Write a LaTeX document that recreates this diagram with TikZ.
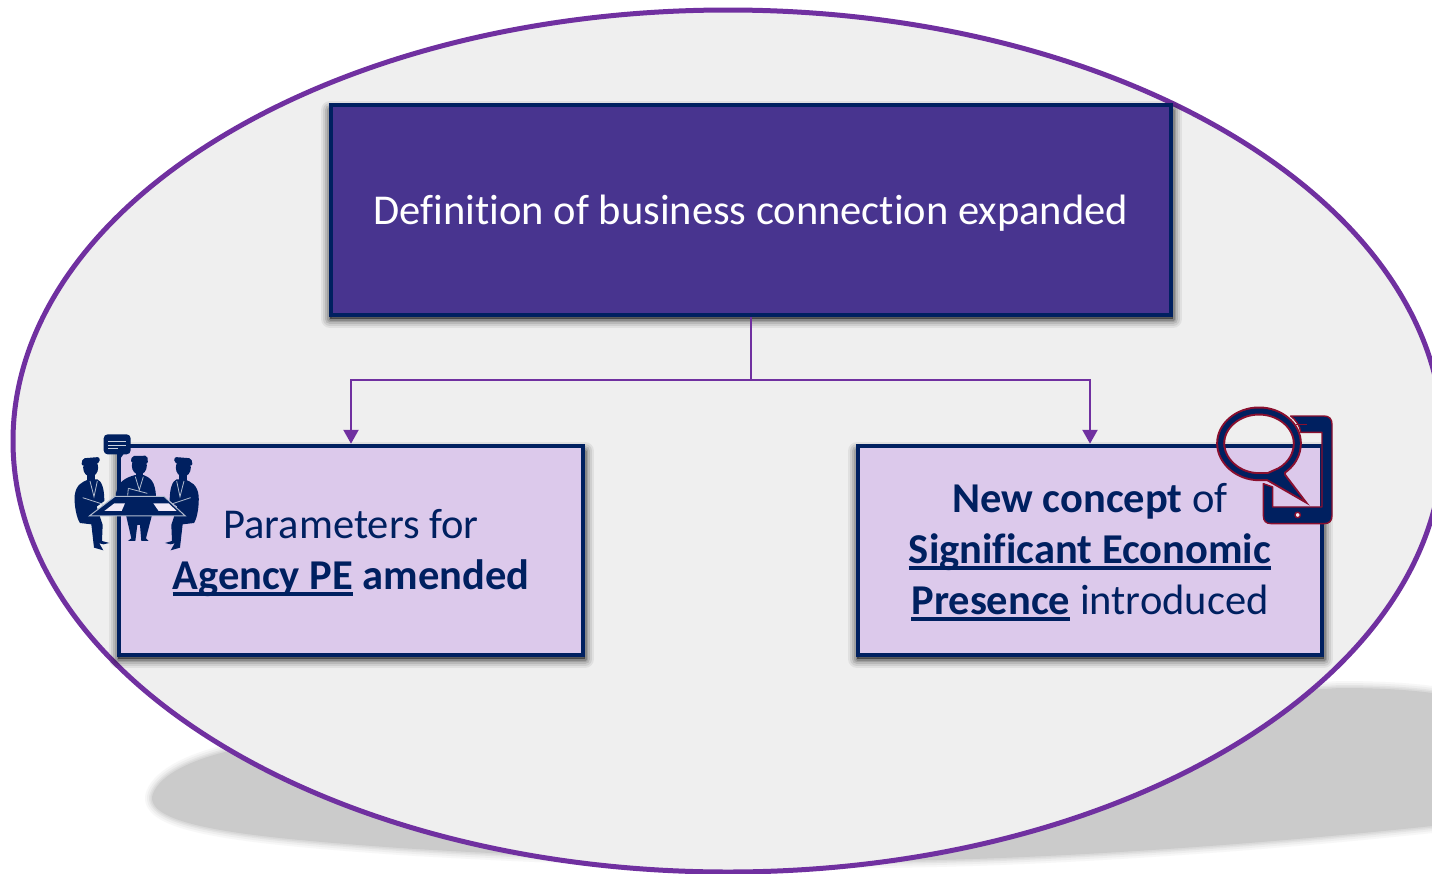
\documentclass[tikz,border=0pt]{standalone}
\usepackage{fontspec}
\setmainfont{Carlito}[Ligatures=NoCommon]
\usetikzlibrary{arrows.meta,shapes.geometric}
\definecolor{navy}{HTML}{002060}
\definecolor{purp}{HTML}{7030A0}
\definecolor{deep}{HTML}{48348F}
\definecolor{lilac}{HTML}{DCC9EB}
\definecolor{pale}{HTML}{EFEFEF}
\definecolor{crim}{HTML}{8A0F2E}
\definecolor{shad}{HTML}{CBCBCB}
\newcommand{\softbox}[4]{%
  \foreach \w/\o in {18/.06,14/.08,10/.10,6/.13,3/.16}{
    \draw[black,opacity=\o,line width=\w pt,fill=black,line join=round] (#1,#2+6) rectangle (#3+1,#4+3);
  }}
\newcommand{\thul}[1]{\setbox0=\hbox{#1}\rlap{\rule[-6.5pt]{\wd0}{4pt}}\box0\relax}
\newcommand{\floorpath}{(152,797) .. controls (156,778) and (185,762) .. (225,752) -- (800,720) -- (1340,688) .. controls (1380,688) and (1410,690) .. (1432,693) -- (1445,693) -- (1445,825) -- (1432,826) .. controls (1300,840) and (1150,852) .. (1000,858) .. controls (800,866) and (560,858) .. (400,848) .. controls (260,838) and (150,828) .. (152,797) -- cycle}
\tikzset{
  ovalshape/.style={draw=purp,line width=5pt,fill=pale,ellipse,minimum width=1430pt,minimum height=862pt,inner sep=0pt},
  mainbox/.style={draw=navy,line width=4.5pt,fill=deep,text=white,minimum width=840pt,minimum height=210pt,inner sep=0pt,font=\fontsize{42.5}{51}\selectfont},
  subbox/.style={draw=navy,line width=4.5pt,fill=lilac,text=navy,minimum width=464pt,minimum height=209pt,inner sep=0pt,align=center,font=\fontsize{42.5}{51}\selectfont},
  conn/.style={draw=purp,line width=2.4pt},
  arrowconn/.style={conn,-{Triangle[length=14pt,width=15pt]}},
  icon/.style={fill=navy,draw=none},
  sheet/.style={fill=lilac!40!white,draw=none},
  detail/.style={draw=white!70!navy,line width=0.8pt},
}
\begin{document}
\begin{tikzpicture}[x=1pt,y=-1pt]
\useasboundingbox (0,0) rectangle (1432,873);
\clip (0,0) rectangle (1432,873);
\fill[white] (0,0) rectangle (1432,873);
% floor shadow
\foreach \w/\o in {14/.15,10/.2,6/.3,3/.4}{
  \draw[shad,opacity=\o,line width=\w pt,line join=round] \floorpath;
}
\fill[shad] \floorpath;
% ellipse
\node[ovalshape] (oval) at (728,441) {};
% box shadows
\softbox{330}{104}{1172}{316}
\softbox{118}{445}{584}{656}
\softbox{857}{445}{1323}{656}
% boxes
\node[mainbox] (top) at (751,210) {\rule{0pt}{36pt}Definition of business connection expanded};
\node[subbox] (left) at (351,550.5) {\parbox{400pt}{\vspace*{5pt}\centering Parameters for\\\textbf{\thul{Agency PE} amended}}};
\node[subbox] (right) at (1090,550.5) {\parbox{440pt}{\vspace*{4pt}\centering\textbf{New concept} of\\\textbf{\thul{Significant Economic}}\\\textbf{\thul{Presence}} introduced}};
% connectors
\coordinate (junction) at (751,380);
\draw[conn] (top.south) -- (junction);
\draw[arrowconn] (junction) -| (left.north);
\draw[arrowconn] (junction) -| (right.north);
% meeting icon
\begin{scope}[shift={(60,425)},x=0.3333pt,y=-0.3333pt]
  % speech tag
  \fill[icon,rounded corners=4pt] (131,28) rectangle (212,88);
  \fill[icon] (172,85) -- (192,85) -- (184,97) -- cycle;
  \draw[white!80!navy,line width=1pt] (145,48) -- (198,48) (145,60) -- (198,60) (145,71) -- (175,71);
  % heads with hair
  \fill[icon] (92,128) ellipse [x radius=7.5pt,y radius=9pt];
  \fill[icon,rounded corners=2pt] (64,122) -- (68,100) -- (118,96) -- (120,112) -- (104,118) -- cycle;
  \fill[icon] (82,150) rectangle (104,170);
  \fill[icon] (238,122) ellipse [x radius=7.5pt,y radius=9pt];
  \fill[icon,rounded corners=2pt] (212,112) -- (216,93) -- (262,92) -- (264,116) -- cycle;
  \fill[icon] (228,145) rectangle (250,160);
  \fill[icon] (370,128) ellipse [x radius=7.5pt,y radius=9pt];
  \fill[icon,rounded corners=2pt] (398,122) -- (394,100) -- (344,96) -- (342,112) -- (358,118) -- cycle;
  \fill[icon] (358,150) rectangle (380,170);
  % left person
  \fill[icon] (44,212) .. controls (48,180) and (65,170) .. (88,163) -- (112,163) .. controls (125,168) and (133,190) .. (133,228) -- (110,245) -- (128,300) -- (126,348) -- (148,354) -- (130,358) -- (118,355) -- (130,376) -- (102,368) -- (94,298) -- (60,294) .. controls (50,280) and (42,240) .. (44,212) -- cycle;
  \draw[detail] (90,168) -- (102,215) -- (112,168);
  % right person
  \fill[icon] (416,212) .. controls (412,180) and (395,170) .. (372,163) -- (350,163) .. controls (337,168) and (329,190) .. (329,228) -- (352,245) -- (334,300) -- (336,348) -- (315,354) -- (332,358) -- (344,355) -- (332,376) -- (360,368) -- (368,298) -- (402,294) .. controls (412,280) and (418,240) .. (416,212) -- cycle;
  \draw[detail] (372,168) -- (360,215) -- (350,168);
  % middle person
  \fill[icon] (168,205) .. controls (175,170) and (195,158) .. (226,150) -- (250,150) .. controls (272,158) and (286,170) .. (288,215) -- (168,215) -- cycle;
  \draw[detail] (226,155) -- (238,195) -- (250,155) (205,190) -- (203,212) (205,190) -- (262,205);
  \fill[icon] (198,270) -- (276,270) -- (258,340) -- (266,348) -- (244,348) -- (240,300) -- (232,300) -- (226,348) -- (204,348) -- (214,340) -- cycle;
  % legs highlight and table
  \draw[detail] (68,218) -- (130,238) (392,218) -- (332,238);
  \fill[icon,draw=white!70!navy,line width=1pt] (88,273) -- (165,214) -- (312,214) -- (376,273) -- cycle;
  \fill[sheet] (133,258) -- (163,235) -- (195,235) -- (185,258) -- cycle;
  \fill[sheet] (280,235) -- (326,235) -- (350,258) -- (296,258) -- cycle;
\end{scope}
% tablet icon
\begin{scope}[shift={(1200,395)},x=0.3333pt,y=-0.3333pt]
  \path[fill=navy,draw=crim,line width=1.4pt,line join=round]
    (272,63) -- (372,63) .. controls (388,63) and (396,72) .. (396,88) -- (396,362) .. controls (396,378) and (388,386) .. (372,386) -- (214,386) .. controls (198,386) and (190,378) .. (190,362) -- (190,266) -- (218,276) -- (218,336) -- (366,336) -- (366,112) -- (302,112) .. controls (300,92) and (288,75) .. (272,63) -- cycle;
  \draw[crim,line width=1.4pt] (288,88) -- (320,88);
  \filldraw[fill=lilac!30!white,draw=crim,line width=1.4pt] (293,360) circle [radius=2.7pt];
  \foreach \c/\w in {crim/9,navy/5}{
    \draw[\c,line width=\w pt,line join=miter,miter limit=6,fill=\c]
      (205,245) -- (278,287) -- (246,245) -- (243,228) -- cycle;
    \draw[\c,line width=\w pt]
      (243,228) .. controls (275,208) and (292,178) .. (292,145) .. controls (292,92) and (240,48) .. (177,48) .. controls (114,48) and (62,92) .. (62,145) .. controls (62,198) and (114,245) .. (177,245) -- (205,245);
  }
\end{scope}
\end{tikzpicture}
\end{document}
